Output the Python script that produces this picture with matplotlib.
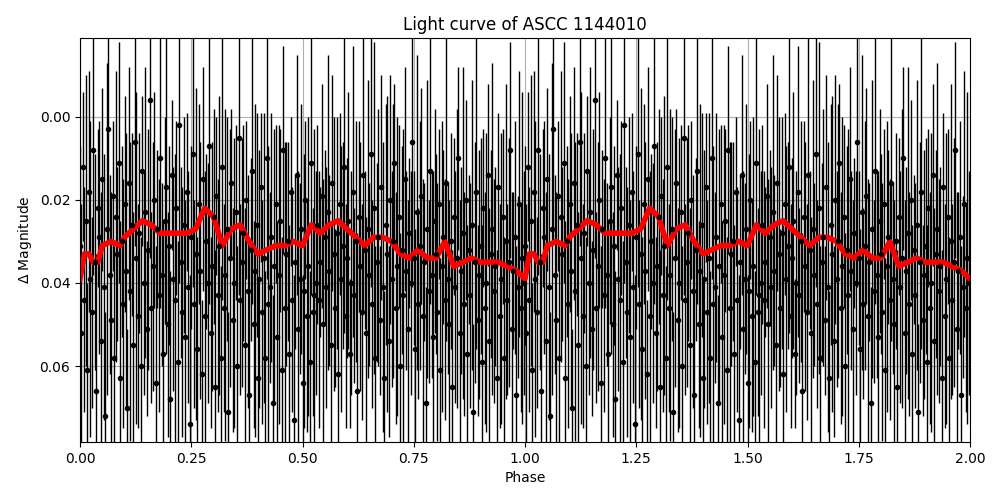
import numpy as np
import matplotlib.pyplot as plt

# one cycle of phase-folded photometry (duplicated at phase + 1)
mag = [0.031, 0.052, 0.012, 0.044, 0.025, 0.061, 0.018, 0.039, 0.047, 0.008,
       0.035, 0.066, 0.022, 0.029, 0.054, 0.015, 0.041, 0.072, 0.027, 0.003,
       0.038, 0.049, 0.019, 0.058, 0.024, 0.033, 0.011, 0.063, 0.030, 0.045,
       0.021, 0.037, 0.070, 0.016, 0.042, 0.026, 0.055, 0.006, 0.034, 0.048,
       0.028, 0.060, 0.013, 0.040, 0.023, 0.051, 0.032, -0.004, 0.046, 0.036,
       0.020, 0.064, 0.027, 0.043, 0.010, 0.038, 0.057, 0.025, 0.017, 0.050,
       0.031, 0.068, 0.014, 0.039, 0.044, 0.022, 0.059, 0.002, 0.035, 0.047,
       0.026, 0.053, 0.018, 0.041, 0.074, 0.029, 0.009, 0.045, 0.033, 0.056,
       0.021, 0.037, 0.062, 0.015, 0.048, 0.030, 0.040, 0.007, 0.052, 0.036,
       0.024, 0.065, 0.019, 0.043, 0.031, 0.058, 0.012, 0.046, 0.038, 0.027,
       0.071, 0.034, 0.016, 0.049, 0.040, 0.023, 0.060, 0.005, 0.044, 0.035,
       0.028, 0.055, 0.020, 0.042, 0.067, 0.032, 0.013, 0.050, 0.037, 0.026,
       0.063, 0.039, 0.017, 0.047, 0.034, 0.058, 0.010, 0.045, 0.041, 0.029,
       0.069, 0.036, 0.021, 0.053, 0.038, 0.025, 0.061, 0.008, 0.046, 0.033,
       0.030, 0.057, 0.018, 0.044, 0.073, 0.035, 0.014, 0.051, 0.039, 0.027,
       0.064, 0.042, 0.020, 0.048, 0.036, 0.059, 0.011, 0.047, 0.043, 0.040,
       0.026, 0.044, 0.035, 0.019, 0.050, 0.029, 0.041, 0.023, 0.037, 0.055,
       0.016, 0.033, 0.046, 0.028, 0.062, 0.021, 0.039, 0.031, 0.012, 0.048,
       0.034, 0.025, 0.057, 0.040, 0.018, 0.043, 0.030, 0.066, 0.024, 0.036,
       0.047, 0.014, 0.032, 0.052, 0.027, 0.038, 0.009, 0.045, 0.022, 0.058,
       0.035, 0.029, 0.049, 0.017, 0.041, 0.063, 0.026, 0.033, 0.054, 0.020,
       0.039, 0.030, 0.011, 0.046, 0.036, 0.024, 0.060, 0.032, 0.043, 0.015,
       0.037, 0.051, 0.028, 0.040, 0.006, 0.034, 0.056, 0.023, 0.045, 0.031,
       0.019, 0.048, 0.035, 0.069, 0.027, 0.042, 0.013, 0.038, 0.053, 0.025,
       0.033, 0.047, 0.021, 0.061, 0.036, 0.029, 0.044, 0.016, 0.039, 0.050,
       0.030, 0.065, 0.024, 0.041, 0.034, 0.010, 0.052, 0.037, 0.028, 0.045,
       0.020, 0.057, 0.032, 0.043, 0.026, 0.071, 0.035, 0.018, 0.049, 0.038,
       0.031, 0.059, 0.022, 0.046, 0.040, 0.014, 0.054, 0.033, 0.027, 0.042,
       0.036, 0.063, 0.017, 0.048, 0.039, 0.024, 0.058, 0.030, 0.044, 0.035,
       0.008, 0.051, 0.037, 0.029, 0.067, 0.041, 0.021, 0.046, 0.034, 0.040]
err = [0.024, 0.031, 0.018, 0.027, 0.035, 0.021, 0.029, 0.038, 0.023, 0.030,
       0.026, 0.033, 0.019, 0.028, 0.036, 0.022, 0.032, 0.025, 0.040, 0.027]

# binned mean, phase 0 .. 1
bin_phase = [0.00, 0.01, 0.02, 0.03, 0.04, 0.05, 0.07, 0.09, 0.10, 0.12,
             0.14, 0.16, 0.18, 0.20, 0.22, 0.24, 0.26, 0.28, 0.30, 0.32,
             0.34, 0.36, 0.38, 0.40, 0.42, 0.44, 0.46, 0.48, 0.50, 0.52,
             0.54, 0.56, 0.58, 0.60, 0.62, 0.64, 0.66, 0.68, 0.70, 0.72,
             0.74, 0.76, 0.78, 0.80, 0.82, 0.84, 0.86, 0.88, 0.90, 0.92,
             0.94, 0.96, 0.98, 1.00]
bin_mag = [0.039, 0.033, 0.033, 0.035, 0.035, 0.031, 0.030, 0.031, 0.029, 0.027,
           0.025, 0.026, 0.028, 0.028, 0.028, 0.028, 0.027, 0.022, 0.024, 0.031,
           0.027, 0.026, 0.030, 0.033, 0.032, 0.031, 0.031, 0.030, 0.031, 0.026,
           0.028, 0.026, 0.025, 0.027, 0.029, 0.031, 0.029, 0.029, 0.030, 0.033,
           0.034, 0.032, 0.034, 0.034, 0.030, 0.036, 0.035, 0.034, 0.035, 0.035,
           0.035, 0.036, 0.037, 0.039]

n = len(mag)
phase = np.arange(n) / n
errs = np.resize(err, n)
phase2 = np.concatenate([phase, phase + 1])
mag2 = np.concatenate([mag, mag])
err2 = np.concatenate([errs, errs])
bp = np.concatenate([bin_phase, np.array(bin_phase[1:]) + 1])
bm = np.concatenate([bin_mag, bin_mag[1:]])

fig = plt.figure(figsize=(10, 5), dpi=100)
ax = fig.add_axes([0.08, 0.116, 0.89, 0.808])
ax.errorbar(phase2, mag2, yerr=err2, fmt='.', color='k', ecolor='k',
            elinewidth=1, markersize=6)
ax.plot(bp, bm, color='r', lw=4)
ax.set_xlim(0, 2)
ax.set_ylim(0.0783, -0.019)
ax.set_xticks([0, 0.25, 0.5, 0.75, 1.0, 1.25, 1.5, 1.75, 2.0])
ax.set_yticks([0.0, 0.02, 0.04, 0.06])
ax.grid(True)
ax.set_xlabel('Phase')
ax.set_ylabel(r'$\Delta$ Magnitude')
ax.set_title('Light curve of ASCC 1144010')
fig.savefig('out.png')
